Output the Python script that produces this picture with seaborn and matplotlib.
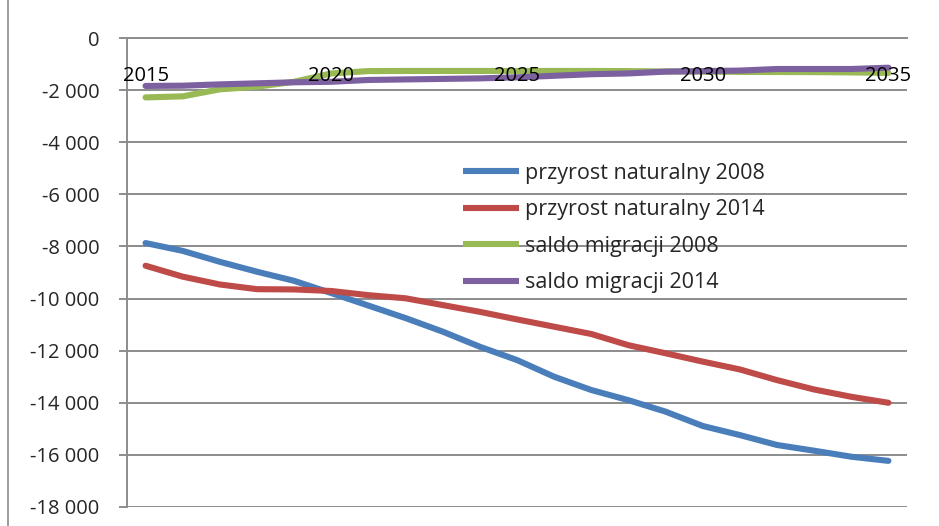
import numpy as np
import pandas as pd
import matplotlib
matplotlib.use("Agg")
import matplotlib.pyplot as plt
import seaborn as sns
from matplotlib.lines import Line2D
from matplotlib.transforms import blended_transform_factory

years = list(range(2015, 2036))
przyrost_2008 = [-7870, -8170, -8590, -8970, -9320, -9790, -10270, -10750, -11270, -11850,
                 -12360, -13000, -13510, -13900, -14340, -14890, -15240, -15620, -15840, -16070, -16230]
przyrost_2014 = [-8740, -9160, -9460, -9640, -9650, -9710, -9870, -9990, -10250, -10510,
                 -10800, -11080, -11360, -11790, -12100, -12420, -12720, -13130, -13490, -13770, -14000]
saldo_2008 = [-2280, -2240, -1970, -1870, -1680, -1360, -1270, -1265, -1265, -1265,
              -1265, -1265, -1265, -1270, -1285, -1290, -1300, -1305, -1310, -1320, -1340]
saldo_2014 = [-1840, -1830, -1780, -1740, -1700, -1680, -1610, -1590, -1570, -1550,
              -1510, -1450, -1390, -1360, -1290, -1270, -1250, -1190, -1190, -1190, -1140]

series_names = ["przyrost naturalny 2008", "przyrost naturalny 2014",
                "saldo migracji 2008", "saldo migracji 2014"]
series_values = [przyrost_2008, przyrost_2014, saldo_2008, saldo_2014]
colors = ["#4A7EBB", "#BE4B48", "#98B954", "#7D60A0"]
x_labels = ["2015", "2020", "2025", "2030", "2035"]
y_ticks = list(range(0, -18001, -2000))

df = pd.DataFrame({
    "rok": years * 4,
    "wartosc": sum(series_values, []),
    "seria": sum([[n] * len(years) for n in series_names], []),
})

sns.set_style("white")
plt.rcParams["font.family"] = ["Open Sans", "DejaVu Sans"]

fig = plt.figure(figsize=(9.39, 5.26), dpi=100)
ax = fig.add_axes([127 / 939, 1 - 507 / 526, 780 / 939, (507 - 38) / 526])

sns.lineplot(data=df, x="rok", y="wartosc", hue="seria", hue_order=series_names,
             palette=colors, linewidth=4.4, ax=ax, legend=False, sort=False)
for ln in ax.get_lines():
    ln.set_solid_capstyle("round")
    ln.set_solid_joinstyle("round")

gray = "#8C8C8C"
fs = 14.5
ax.set_xlim(years[0] - 0.5, years[-1] + 0.5)
ax.set_ylim(-18000, 0)
ax.set_yticks(y_ticks)
ax.set_yticklabels([f"{v:,}".replace(",", " ") for v in y_ticks])
ax.yaxis.grid(True, color=gray, linewidth=1.4)
ax.set_axisbelow(True)

ax.spines["bottom"].set_position(("data", 0))
ax.spines["top"].set_visible(False)
ax.spines["right"].set_visible(False)
for s in ("bottom", "left"):
    ax.spines[s].set_color(gray)
    ax.spines[s].set_linewidth(1.4)

ax.set_xticks(np.arange(years[0] - 0.5, years[-1] + 1.0, 1.0))
ax.set_xticklabels([])
ax.tick_params(axis="x", which="major", direction="out", length=6, width=1.4, color=gray)
ax.tick_params(axis="y", direction="out", length=6, width=1.4, color=gray, pad=14,
               labelsize=fs, left=True)
ax.set_xlabel("")
ax.set_ylabel("")

trans = blended_transform_factory(ax.transData, ax.transAxes)
for lab in x_labels:
    ax.text(int(lab), (507 - 81) / 469, lab, transform=trans, ha="center",
            va="baseline", fontsize=fs, color="black", zorder=6)

handles = [Line2D([0], [0], color=c, linewidth=4.4, solid_capstyle="butt") for c in colors]
fig.legend(handles, series_names, loc="upper left",
           bbox_to_anchor=(463 / 939, 1 - 163 / 526), frameon=False,
           fontsize=15.5, borderpad=0, borderaxespad=0, handlelength=2.6,
           handletextpad=0.3, labelspacing=0.72)

fig.add_artist(Line2D([8 / 939, 8 / 939], [0, 1], color=gray, linewidth=1.2))

fig.savefig("out.png", dpi=100, facecolor="white")
